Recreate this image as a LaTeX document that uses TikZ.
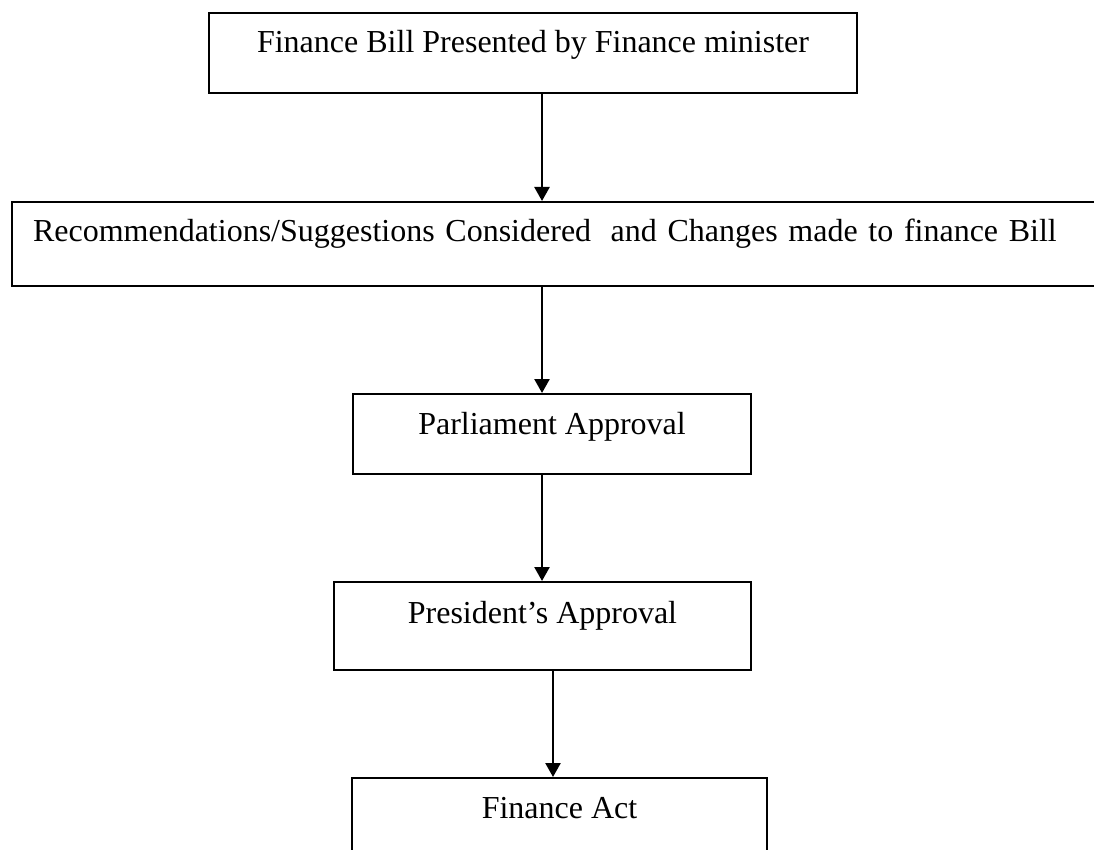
\documentclass[tikz,border=0pt]{standalone}
\usepackage{fontspec}
\setmainfont{Liberation Serif}
\usetikzlibrary{arrows.meta}

\begin{document}
\begin{tikzpicture}[x=1pt,y=-1pt,
stage/.style={draw,line width=2pt,inner ysep=0pt,text height=40pt,
 font=\fontsize{32}{38}\selectfont,anchor=north},
flow/.style={line width=2.5pt,-{Triangle[length=14pt,width=15pt]}}]
 \clip (0,0) rectangle (1094,850);

 \node[stage,minimum width=648pt,text depth=40pt] (bill) at (533,12)
 {Finance Bill Presented by Finance minister};
 \node[stage,anchor=north west,inner xsep=21pt,text width=1047pt,align=left,
 text depth=44pt] (changes) at (11,201)
 {\mbox{Recommendations/Suggestions Considered\hspace{0.61em}and Changes made to finance Bill}};
 \node[stage,minimum width=398pt,text depth=40pt] (parl) at (552,393)
 {Parliament Approval};
 \node[stage,minimum width=417pt,text height=41pt,text depth=47pt] (pres) at (542.5,581)
 {President’s Approval};
 \node[stage,minimum width=415pt,text depth=50pt] (act) at (559.5,777)
 {Finance Act};

 % arrows between the stages
 \foreach \a/\b/\x in {bill/changes/542, changes/parl/542, parl/pres/542, pres/act/553} {
 \draw[flow] (\a.south -| \x,0) -- (\b.north -| \x,0);
 }

\end{tikzpicture}
\end{document}
